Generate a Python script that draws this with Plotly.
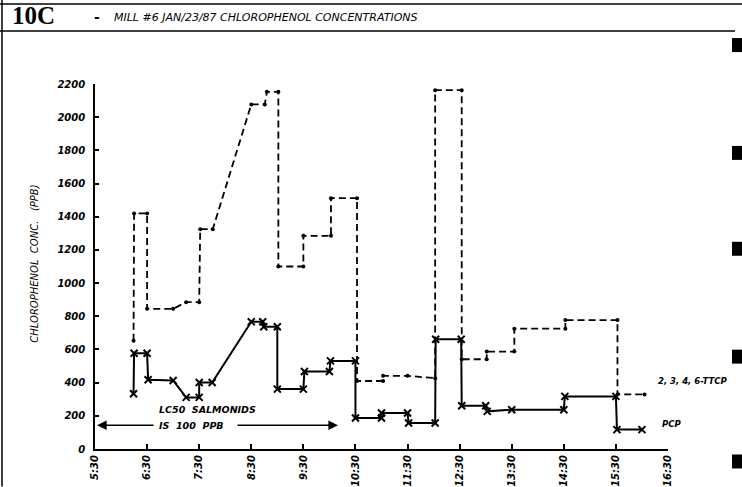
import plotly.graph_objects as go

# ---- data ----
tick_hours = [5.5, 6.5, 7.5, 8.5, 9.5, 10.5, 11.5, 12.5, 13.5, 14.5, 15.5, 16.5]
tick_labels = ["5:30", "6:30", "7:30", "8:30", "9:30", "10:30", "11:30",
               "12:30", "13:30", "14:30", "15:30", "16:30"]
y_ticks = [0, 200, 400, 600, 800, 1000, 1200, 1400, 1600, 1800, 2000, 2200]

pcp_time = [6.24, 6.25, 6.5, 6.52, 7.0, 7.25, 7.5, 7.5, 7.75, 8.5, 8.72, 8.74, 9.0,
            9.0, 9.5, 9.52, 10.0, 10.02, 10.5, 10.5, 11.0, 11.0, 11.5, 11.52, 12.03,
            12.04, 12.53, 12.54, 13.0, 13.03, 13.5, 14.5, 14.52, 15.5, 15.52, 16.0]
pcp_ppb = [333, 577, 577, 417, 413, 311, 311, 401, 401, 767, 767, 737, 737,
           361, 361, 467, 467, 531, 531, 187, 187, 217, 217, 157, 157,
           661, 661, 261, 261, 227, 237, 237, 317, 317, 117, 117]

ttcp_time = [6.24, 6.25, 6.5, 6.5, 7.0, 7.25, 7.5, 7.52, 7.76, 8.5, 8.76, 8.8, 9.02,
             9.02, 9.5, 9.5, 10.03, 10.03, 10.53, 10.53, 11.03, 11.03, 11.5, 12.03,
             12.03, 12.54, 12.54, 13.02, 13.02, 13.55, 13.55, 14.53, 14.53, 15.53,
             15.53, 16.05]
ttcp_ppb = [652, 1420, 1420, 845, 845, 885, 885, 1325, 1325, 2077, 2077, 2153, 2153,
            1100, 1100, 1285, 1285, 1512, 1512, 410, 410, 441, 441, 427,
            2163, 2163, 541, 541, 587, 587, 725, 725, 777, 777,
            329, 329]

# ---- layout helpers (pixel -> paper) ----
L, R, T, B = 95, 668, 84, 449.5
W, H = 742, 487
def px(x):
    return (x - L) / (R - L)
def py(y):
    return (B - y) / (B - T)

ytick_font = dict(family="DejaVu Sans", size=10, color="black", weight="bold", style="italic")
xtick_font = dict(family="DejaVu Sans", size=10, color="black", weight="bold", style="italic")

fig = go.Figure()
fig.add_trace(go.Scatter(
    x=ttcp_time, y=ttcp_ppb, mode="lines+markers",
    line=dict(color="black", width=1.8, dash="7px,4px"),
    marker=dict(symbol="circle", size=4, color="black"),
    showlegend=False))
fig.add_trace(go.Scatter(
    x=pcp_time, y=pcp_ppb, mode="lines+markers",
    line=dict(color="black", width=2),
    marker=dict(symbol="x-thin", size=7, color="black", line=dict(width=2, color="black")),
    showlegend=False))

fig.update_layout(
    width=W, height=H,
    margin=dict(l=L, r=W - R, t=T, b=H - B, autoexpand=False),
    paper_bgcolor="white", plot_bgcolor="white",
    xaxis=dict(range=[5.5, 16.5], tickvals=tick_hours, ticktext=tick_labels,
               tickangle=-90, ticks="inside", ticklen=5, tickwidth=1.5,
               tickcolor="black", showline=True, linecolor="black", linewidth=2,
               showgrid=False, zeroline=False, tickfont=xtick_font, automargin=False),
    yaxis=dict(range=[0, 2200], tickvals=y_ticks, ticks="inside", ticklen=4,
               tickwidth=1.5, tickcolor="black", showline=True, linecolor="black",
               linewidth=1.5, showgrid=False, zeroline=False, tickfont=ytick_font,
               ticklabelstandoff=6, automargin=False),
)

ann_font = dict(family="DejaVu Sans", size=9.5, color="black", style="italic", weight="bold")
lbl_font = dict(family="DejaVu Sans", size=8.5, color="black", style="italic", weight="bold")
annotations = [
    dict(text="10C", x=px(10), y=py(15), xanchor="left", yanchor="middle",
         font=dict(family="Liberation Serif", size=25, color="black", weight="bold")),
    dict(text="-", x=px(97), y=py(17), xanchor="center", yanchor="middle",
         font=dict(family="DejaVu Sans", size=14, color="black", weight="bold")),
    dict(text="MILL #6 JAN/23/87 CHLOROPHENOL CONCENTRATIONS", x=px(112), y=py(17),
         xanchor="left", yanchor="middle",
         font=dict(family="DejaVu Sans", size=11, color="black", style="italic")),
    dict(text="CHLOROPHENOL  CONC.   (PPB)", x=px(35), y=py(264), textangle=-90,
         xanchor="center", yanchor="middle",
         font=dict(family="DejaVu Sans", size=10, color="black", style="italic")),
    dict(text="LC50  SALMONIDS", x=px(157), y=py(410), xanchor="left", yanchor="middle",
         font=ann_font),
    dict(text="IS  100  PPB", x=px(157), y=py(426), xanchor="left", yanchor="middle",
         font=ann_font),
    dict(text="2, 3, 4, 6-TTCP", x=px(656), y=py(381), xanchor="left", yanchor="middle",
         font=lbl_font),
    dict(text="PCP", x=px(660), y=py(424), xanchor="left", yanchor="middle",
         font=lbl_font),
    # arrows for LC50 line
    dict(text="", x=px(97), y=py(425.7), ax=58, ay=0,
         axref="pixel", ayref="pixel", showarrow=True, arrowhead=2, arrowsize=1.2,
         arrowwidth=1.6, arrowcolor="black"),
    dict(text="", x=px(338), y=py(425.7), ax=-102, ay=0,
         axref="pixel", ayref="pixel", showarrow=True, arrowhead=2, arrowsize=1.2,
         arrowwidth=1.6, arrowcolor="black"),
]
for a in annotations:
    a.setdefault("xref", "paper")
    a.setdefault("yref", "paper")
    a.setdefault("showarrow", False)
    fig.add_annotation(**a)

shapes = [
    dict(type="line", x0=px(0), x1=px(742), y0=py(4), y1=py(4), line=dict(color="black", width=1.5)),
    dict(type="line", x0=px(0), x1=px(735), y0=py(31), y1=py(31), line=dict(color="black", width=1.5)),
    dict(type="line", x0=px(2), x1=px(2), y0=py(0), y1=py(487), line=dict(color="black", width=1.5)),
]
for (y0, y1) in [(38, 52), (146, 160), (242, 256), (350, 364), (455, 469)]:
    shapes.append(dict(type="rect", x0=px(732), x1=px(742), y0=py(y1), y1=py(y0),
                       fillcolor="black", line=dict(width=0)))
for s in shapes:
    s["xref"] = "paper"
    s["yref"] = "paper"
    fig.add_shape(**s)

fig.write_html("out.html")
